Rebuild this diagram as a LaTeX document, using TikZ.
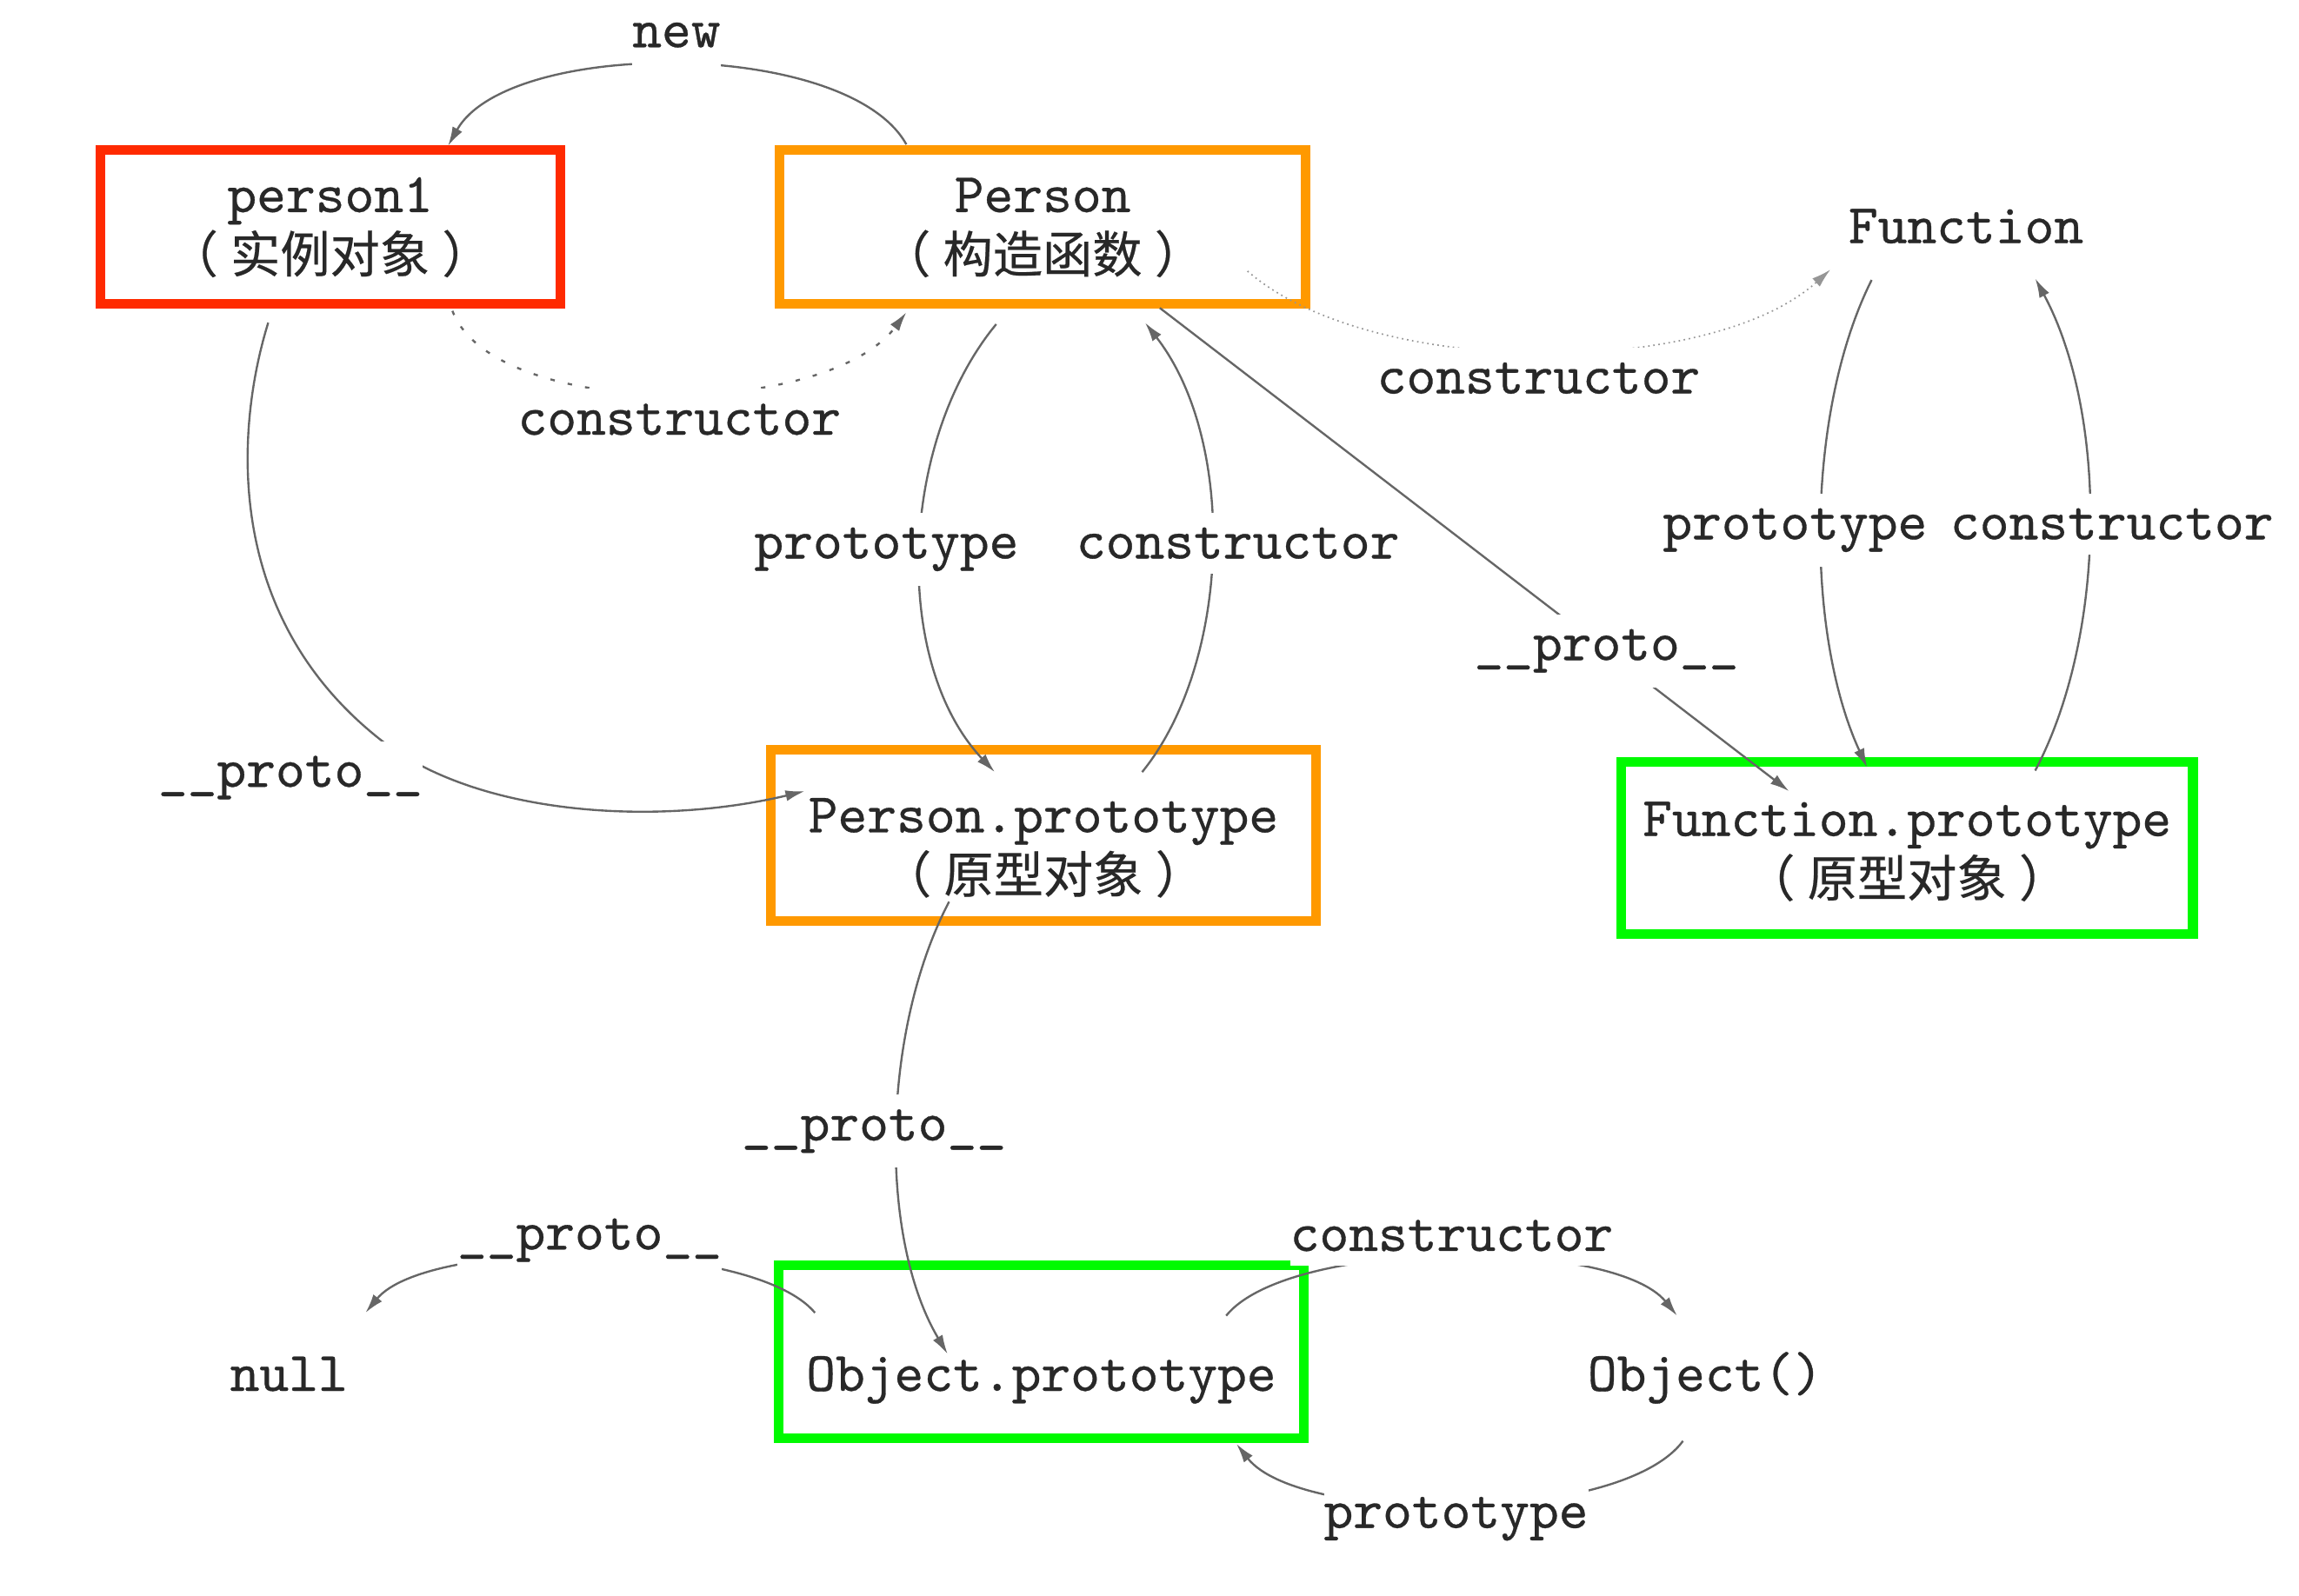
\documentclass[tikz,border=0pt]{standalone}
\usepackage{fontspec}
\setmonofont[FakeBold=0.5]{Latin Modern Mono}
\newfontfamily\cjkfont[Scale=0.89, FakeBold=0.4]{Noto Sans CJK SC}
\usetikzlibrary{arrows.meta}
\definecolor{protored}{RGB}{255,42,0}
\definecolor{protoorange}{RGB}{255,153,0}
\definecolor{protogreen}{RGB}{0,250,0}
\definecolor{linkgray}{RGB}{102,102,102}
\definecolor{dotgray}{RGB}{150,150,150}
\definecolor{inkgray}{RGB}{40,40,40}
\newcommand\uscore{\char"5F\relax}
\newcommand\cjknote[1]{{\cjkfont\kern-0.25em（\kern0.25em#1\kern0.25em）\kern-0.25em}}

\begin{document}
\begin{tikzpicture}[x=0.1mm, y=-0.1mm,
  every node/.style={text=inkgray, font=\ttfamily\fontsize{10.8}{11.7}\selectfont},
  objbox/.style={draw, line width=0.65mm, inner sep=0pt, align=center, text height=6.6mm, text depth=0.4mm},
  link/.style={linkgray, line width=0.14mm, -{Latex[length=1.3mm,width=0.75mm]}},
  lbl/.style={anchor=base, fill=white, inner xsep=0pt, inner ysep=1mm}]
\fill[white] (0,0) rectangle (1560,1083);
% boxes
\node[objbox, draw=protored, minimum width=31.2mm, minimum height=10.4mm] (person1) at (224,154) {person1\\\cjknote{实例对象}};
\node[objbox, draw=protoorange, minimum width=35.7mm, minimum height=10.4mm] (person) at (707.5,154) {Person\\\cjknote{构造函数}};
\node[objbox, draw=protoorange, minimum width=37mm, minimum height=11.6mm, text height=8.2mm] (pproto) at (708,567) {Person.prototype\\\cjknote{原型对象}};
\node[objbox, draw=protogreen, minimum width=38.8mm, minimum height=11.7mm, text height=7mm] (fproto) at (1294,575.5) {Function.prototype\\\cjknote{原型对象}};
\node[objbox, draw=protogreen, minimum width=35.6mm, minimum height=11.7mm, text height=6mm, text depth=0.7mm] (oproto) at (706.5,917.5) {Object.prototype};
% plain objects
\node[anchor=base] (func) at (1334,165) {Function};
\node[anchor=base] (nullobj) at (196,944) {null};
\node[anchor=base] (objfn) at (1157,944) {Object()};
% new
\draw[link] ([shift={(-92.5,-56)}]person.center) .. controls (575,26) and (345,26) .. ([shift={(80,-55)}]person1.center);
% dotted constructors
\draw[link, dash pattern=on 0.3mm off 0.9mm] ([shift={(83,57)}]person1.center) .. controls (335,285) and (560,285) .. ([shift={(-92.5,58)}]person.center);
\draw[link, draw=dotgray, line width=0.1mm, dash pattern=on 0.1mm off 0.25mm] ([shift={(139,30)}]person.center) .. controls (930,257) and (1160,257) .. ([shift={(-92,18)}]func.base);
% Person __proto__
\draw[link] ([shift={(79.5,55)}]person.center) -- ([shift={(-80,-38.5)}]fproto.center);
% person1 __proto__
\draw[link] ([shift={(-42,65)}]person1.center) .. controls (160,290) and (150,420) .. (262,505) .. controls (330,555) and (450,560) .. ([shift={(-162,-30)}]pproto.center);
% Person <-> Person.prototype
\draw[link] ([shift={(-31.5,66)}]person.center) .. controls (610,300) and (605,450) .. ([shift={(-33,-43)}]pproto.center);
\draw[link] ([shift={(67,-43)}]pproto.center) .. controls (835,450) and (840,300) .. ([shift={(69.5,65)}]person.center);
% Person.prototype __proto__
\draw[link] ([shift={(-64,45)}]pproto.center) .. controls (598,700) and (596,840) .. ([shift={(-63.5,1.5)}]oproto.center);
% Object.prototype links
\draw[link] ([shift={(-153.5,-26.5)}]oproto.center) .. controls (510,840) and (290,840) .. ([shift={(52,-53)}]nullobj.base);
\draw[link] ([shift={(125.5,-24.5)}]oproto.center) .. controls (875,840) and (1095,840) .. ([shift={(-19,-51)}]objfn.base);
\draw[link] ([shift={(-15,34)}]objfn.base) .. controls (1100,1035) and (882,1035) .. ([shift={(132.5,62.5)}]oproto.center);
% Function <-> Function.prototype
\draw[link] ([shift={(-64,25)}]func.base) .. controls (1225,280) and (1225,430) .. ([shift={(-27,-54.5)}]fproto.center);
\draw[link] ([shift={(87,-52.5)}]fproto.center) .. controls (1430,430) and (1430,280) .. ([shift={(47,24)}]func.base);
% labels
\node[lbl, inner ysep=1.4mm] (lnew) at (459,32) {new};
\node[lbl] (lctorA) at (461,295) {constructor};
\node[lbl] (lctorB) at (1044,267) {constructor};
\node[lbl] (lprotoA) at (601.5,379) {prototype};
\node[lbl] (lctorC) at (840,379) {constructor};
\node[lbl] (lprotoB) at (1218,366) {prototype};
\node[lbl] (lctorD) at (1433,366) {constructor};
\node[lbl] (lupA) at (1090,448) {\uscore\uscore proto\uscore\uscore};
\node[lbl] (lupB) at (197,534) {\uscore\uscore proto\uscore\uscore};
\node[lbl] (lupC) at (593,774) {\uscore\uscore proto\uscore\uscore};
\node[lbl] (lupD) at (400,848) {\uscore\uscore proto\uscore\uscore};
\node[lbl] (lctorE) at (985,849) {constructor};
\node[lbl] (lprotoC) at (988,1037) {prototype};
\end{tikzpicture}
\end{document}
